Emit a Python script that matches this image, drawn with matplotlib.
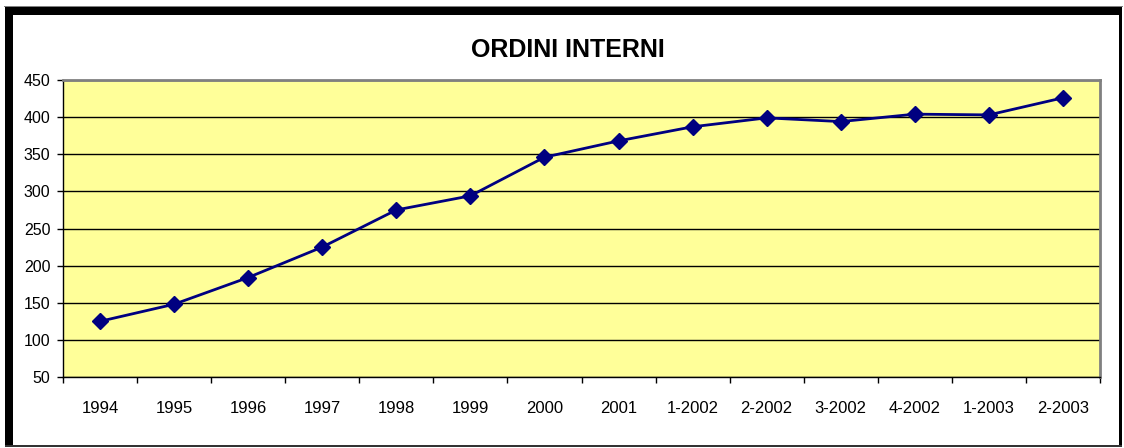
import matplotlib.pyplot as plt
from matplotlib.patches import Rectangle

periods = ["1994", "1995", "1996", "1997", "1998", "1999", "2000", "2001",
           "1-2002", "2-2002", "3-2002", "4-2002", "1-2003", "2-2003"]
orders = [125, 148, 184, 225, 275, 294, 346, 368, 387, 399, 394, 404, 403, 426]

W, H = 1124, 448
plt.rcParams["font.family"] = ["Liberation Sans", "DejaVu Sans"]

fig = plt.figure(figsize=(W / 100, H / 100), dpi=100)


def px_rect(x0, y0, x1, y1, **kw):
    # rectangle given in pixel coords from the top-left corner
    fig.add_artist(Rectangle((x0 / W, 1 - y1 / H), (x1 - x0) / W, (y1 - y0) / H,
                             transform=fig.transFigure, **kw))


# chart frame: thick shadow on top/left, thin on right/bottom
px_rect(4, 6, 1123, 7, color="#808080", lw=0)
px_rect(5, 7, 1122, 15, color="black", lw=0)
px_rect(5, 7, 13, 447, color="black", lw=0)
px_rect(1119, 7, 1122, 447, color="black", lw=0)
px_rect(5, 445, 1122, 447, color="#333333", lw=0)

left, top, right, bottom = 63, 80, 1100, 377
ax = fig.add_axes([left / W, 1 - bottom / H, (right - left) / W, (bottom - top) / H])
ax.set_facecolor("#FFFF99")

x = list(range(len(periods)))
ax.plot(x, orders, color="#000080", lw=2, marker="D", markersize=8.5,
        markerfacecolor="#000080", markeredgecolor="#000080", zorder=3)

ax.set_xlim(-0.5, len(periods) - 0.5)
ax.set_ylim(50, 450)
ax.set_yticks(range(50, 451, 50))
ax.yaxis.grid(True, color="black", lw=1)
ax.set_axisbelow(True)

ax.set_xticks([i - 0.5 for i in range(len(periods) + 1)])
ax.set_xticklabels([])
ax.set_xticks(x, minor=True)
ax.set_xticklabels(periods, minor=True)
ax.tick_params(axis="x", which="major", direction="out", length=4, width=1, color="black")
ax.tick_params(axis="x", which="minor", length=0, pad=17, labelsize=12)
ax.tick_params(axis="y", direction="out", length=4, width=1, pad=5, labelsize=11.5)

for s in ["top", "right"]:
    ax.spines[s].set_color("#808080")
    ax.spines[s].set_linewidth(2)
for s in ["left", "bottom"]:
    ax.spines[s].set_color("black")
    ax.spines[s].set_linewidth(1)

fig.text(568 / W, 1 - 50 / H, "ORDINI INTERNI", ha="center", va="center",
         fontsize=18, fontweight="bold")

fig.savefig("out.png", dpi=100)
